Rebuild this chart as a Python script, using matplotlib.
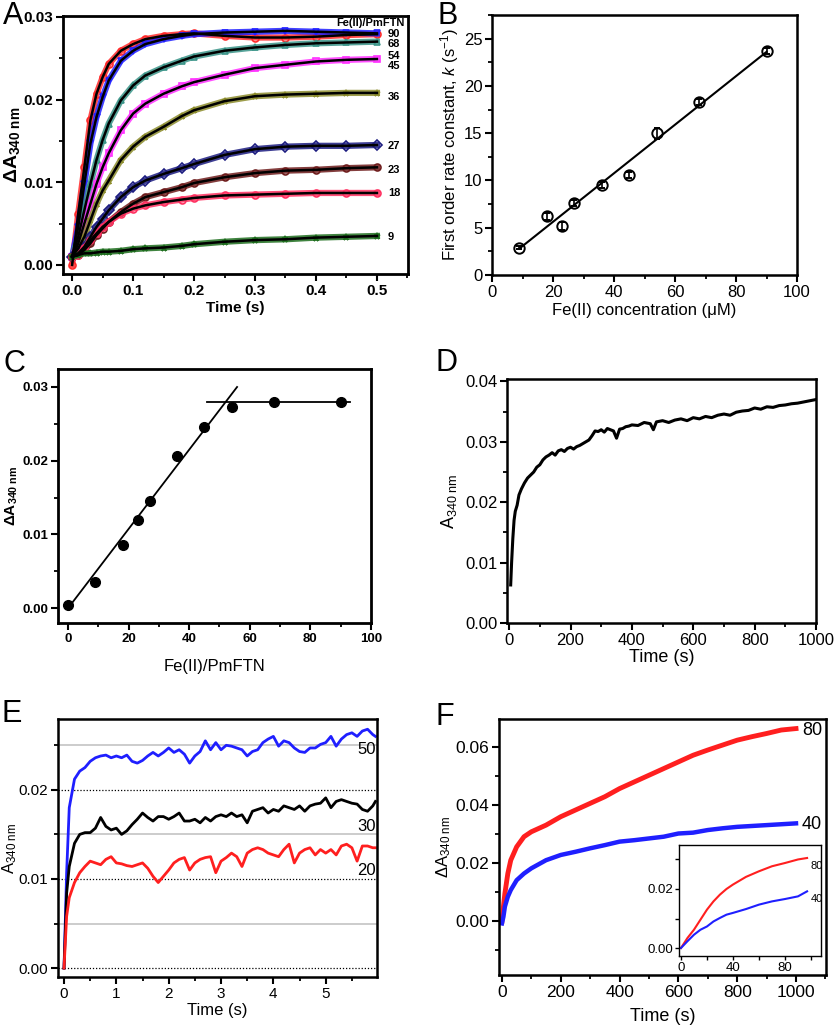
import matplotlib
matplotlib.use('Agg')
import matplotlib.pyplot as plt
from matplotlib.ticker import MultipleLocator, FormatStrFormatter

plt.rcParams['font.family'] = ['Liberation Sans', 'DejaVu Sans']
plt.rcParams['mathtext.fontset'] = 'custom'
plt.rcParams['mathtext.rm'] = 'Liberation Sans'
plt.rcParams['mathtext.it'] = 'Liberation Sans:italic'
plt.rcParams['mathtext.bf'] = 'Liberation Sans:bold'

# ---- panel A: stopped-flow traces at 340 nm
a_time = [0, 0.01, 0.02, 0.03, 0.04, 0.05, 0.06, 0.08, 0.10, 0.12, 0.15, 0.18, 0.20,
          0.25, 0.30, 0.35, 0.40, 0.45, 0.50]
a_90 = [0.0000, 0.0062, 0.0118, 0.0175, 0.0207, 0.0227, 0.0243, 0.0259, 0.0267, 0.0273,
        0.0277, 0.0279, 0.0280, 0.0277, 0.0275, 0.0275, 0.0276, 0.0278, 0.0279]
a_68 = [0.0010, 0.0046, 0.0098, 0.0147, 0.0179, 0.0203, 0.0223, 0.0247, 0.0259, 0.0267,
        0.0273, 0.0277, 0.0279, 0.0281, 0.0282, 0.0283, 0.0282, 0.0281, 0.0280]
a_54 = [0.0010, 0.0034, 0.0066, 0.0098, 0.0127, 0.0151, 0.0171, 0.0199, 0.0217, 0.0229,
        0.0239, 0.0247, 0.0252, 0.0259, 0.0263, 0.0266, 0.0268, 0.0269, 0.0270]
a_45 = [0.0010, 0.0026, 0.0050, 0.0074, 0.0098, 0.0118, 0.0135, 0.0163, 0.0183, 0.0195,
        0.0207, 0.0216, 0.0221, 0.0230, 0.0238, 0.0242, 0.0246, 0.0248, 0.0249]
a_36 = [0.0010, 0.0020, 0.0034, 0.0054, 0.0074, 0.0090, 0.0102, 0.0127, 0.0143, 0.0155,
        0.0167, 0.0180, 0.0187, 0.0198, 0.0204, 0.0206, 0.0207, 0.0208, 0.0208]
a_27 = [0.0010, 0.0014, 0.0022, 0.0034, 0.0046, 0.0056, 0.0066, 0.0082, 0.0094, 0.0102,
        0.0110, 0.0117, 0.0122, 0.0133, 0.0140, 0.0143, 0.0144, 0.0144, 0.0145]
a_23 = [0.0010, 0.0012, 0.0018, 0.0026, 0.0036, 0.0044, 0.0052, 0.0064, 0.0074, 0.0082,
        0.0088, 0.0094, 0.0099, 0.0106, 0.0111, 0.0114, 0.0115, 0.0117, 0.0118]
a_18 = [0.0010, 0.0012, 0.0020, 0.0030, 0.0038, 0.0046, 0.0052, 0.0062, 0.0068, 0.0072,
        0.0076, 0.0079, 0.0081, 0.0084, 0.0085, 0.0086, 0.0087, 0.0087, 0.0087]
a_9 = [0.0010, 0.0012, 0.0014, 0.0014, 0.0015, 0.0016, 0.0016, 0.0017, 0.0019, 0.0020,
       0.0021, 0.0023, 0.0025, 0.0028, 0.0030, 0.0031, 0.0033, 0.0034, 0.0035]
a_series = [a_90, a_68, a_54, a_45, a_36, a_27, a_23, a_18, a_9]
a_colors = ['#ff2a2a', '#2020ff', '#3a9488', '#ff30ff', '#8c8c2c', '#1c1c80', '#6e1c1c',
            '#ff3060', '#1e6e1e']
a_markers = ['o', 'v', '^', 's', '*', 'D', 'o', 'o', '*']
a_labels = ['90', '68', '54', '45', '36', '27', '23', '18', '9']
a_label_y = [0.0279, 0.0267, 0.0253, 0.0241, 0.0203, 0.0144, 0.0115, 0.0087, 0.0034]

# ---- panel B: rate constant vs Fe(II)
b_fe = [9, 18, 23, 27, 36, 45, 54, 68, 90]
b_k = [2.9, 6.2, 5.2, 7.6, 9.5, 10.6, 15.0, 18.3, 23.7]
b_err = [0.2, 0.4, 0.4, 0.3, 0.3, 0.3, 0.6, 0.3, 0.3]
b_fit_x = [9, 90]
b_fit_y = [2.8, 23.6]

# ---- panel C: titration
c_ratio = [0, 9, 18, 23, 27, 36, 45, 54, 68, 90]
c_dA = [0.0004, 0.0035, 0.0086, 0.0120, 0.0145, 0.0207, 0.0246, 0.0273, 0.0279, 0.0280]
c_line1_x = [1.3, 55.8]
c_line1_y = [0.0007, 0.0300]
c_line2_x = [45.8, 93]
c_line2_y = [0.0279, 0.0279]

# ---- panel D: slow phase
d_time = [5, 8, 12, 16, 20, 26, 32, 40, 50, 60, 70, 80, 90, 100, 110, 120, 130, 140, 150,
          160, 170, 180, 190, 200, 210, 220, 230, 240, 250, 260, 270, 280, 290, 300, 310,
          320, 330, 340, 350, 360, 370, 380, 390, 400, 420, 440, 460, 470, 480, 500, 520,
          540, 560, 580, 600, 620, 640, 660, 680, 700, 720, 740, 760, 780, 800, 820, 840,
          860, 880, 900, 920, 940, 960, 980, 1000]
d_abs = [0.0063, 0.0100, 0.0140, 0.0170, 0.0185, 0.0195, 0.0212, 0.0222, 0.0232, 0.0240,
         0.0245, 0.0250, 0.0258, 0.0262, 0.0270, 0.0275, 0.0278, 0.0282, 0.0278, 0.0285,
         0.0287, 0.0284, 0.0289, 0.0291, 0.0288, 0.0292, 0.0294, 0.0297, 0.0300, 0.0303,
         0.0310, 0.0318, 0.0317, 0.0320, 0.0316, 0.0322, 0.0320, 0.0318, 0.0306, 0.0321,
         0.0322, 0.0325, 0.0326, 0.0328, 0.0327, 0.0332, 0.0330, 0.0320, 0.0333, 0.0335,
         0.0332, 0.0336, 0.0338, 0.0335, 0.0340, 0.0338, 0.0342, 0.0340, 0.0344, 0.0346,
         0.0344, 0.0349, 0.0351, 0.0352, 0.0356, 0.0354, 0.0358, 0.0357, 0.0360, 0.0361,
         0.0363, 0.0364, 0.0366, 0.0368, 0.0370]

# ---- panel E: three Fe(II) levels
e_time = [0, 0.05, 0.1, 0.2, 0.3, 0.4, 0.5, 0.6, 0.7, 0.8, 0.9, 1.0, 1.1, 1.2, 1.3, 1.4,
          1.5, 1.6, 1.7, 1.8, 1.9, 2.0, 2.1, 2.2, 2.3, 2.4, 2.5, 2.6, 2.7, 2.8, 2.9, 3.0,
          3.1, 3.2, 3.3, 3.4, 3.5, 3.6, 3.7, 3.8, 3.9, 4.0, 4.1, 4.2, 4.3, 4.4, 4.5, 4.6,
          4.7, 4.8, 4.9, 5.0, 5.1, 5.2, 5.3, 5.4, 5.5, 5.6, 5.7, 5.8, 5.9, 5.95]
e_50 = [0.0, 0.0107, 0.0180, 0.0212, 0.0221, 0.0225, 0.0232, 0.0236, 0.0238, 0.0239,
        0.0236, 0.0238, 0.0236, 0.0239, 0.0232, 0.0230, 0.0233, 0.0238, 0.0242, 0.0238,
        0.0242, 0.0247, 0.0242, 0.0245, 0.0240, 0.0230, 0.0238, 0.0243, 0.0255, 0.0245,
        0.0253, 0.0245, 0.0250, 0.0249, 0.0247, 0.0245, 0.0238, 0.0243, 0.0245, 0.0253,
        0.0257, 0.0260, 0.0249, 0.0255, 0.0253, 0.0247, 0.0243, 0.0242, 0.0247, 0.0247,
        0.0251, 0.0253, 0.0260, 0.0249, 0.0257, 0.0262, 0.0264, 0.0260, 0.0266, 0.0268,
        0.0262, 0.0260]
e_30 = [0.0, 0.0084, 0.0114, 0.0140, 0.0150, 0.0152, 0.0152, 0.0157, 0.0169, 0.0159,
        0.0155, 0.0157, 0.0150, 0.0154, 0.0161, 0.0167, 0.0174, 0.0169, 0.0165, 0.0170,
        0.0170, 0.0167, 0.0170, 0.0174, 0.0165, 0.0165, 0.0167, 0.0163, 0.0169, 0.0165,
        0.0170, 0.0172, 0.0170, 0.0174, 0.0170, 0.0172, 0.0163, 0.0176, 0.0178, 0.0180,
        0.0174, 0.0178, 0.0176, 0.0182, 0.0180, 0.0178, 0.0182, 0.0176, 0.0182, 0.0184,
        0.0185, 0.0191, 0.0180, 0.0187, 0.0189, 0.0187, 0.0185, 0.0184, 0.0178, 0.0176,
        0.0182, 0.0187]
e_20 = [0.0, 0.0058, 0.0079, 0.0096, 0.0107, 0.0114, 0.0120, 0.0118, 0.0116, 0.0122,
        0.0125, 0.0118, 0.0117, 0.0115, 0.0114, 0.0116, 0.0118, 0.0112, 0.0103, 0.0096,
        0.0103, 0.0110, 0.0118, 0.0122, 0.0124, 0.0110, 0.0118, 0.0122, 0.0124, 0.0125,
        0.0107, 0.0120, 0.0124, 0.0129, 0.0125, 0.0114, 0.0129, 0.0133, 0.0135, 0.0133,
        0.0129, 0.0127, 0.0125, 0.0133, 0.0139, 0.0118, 0.0129, 0.0133, 0.0135, 0.0127,
        0.0133, 0.0129, 0.0133, 0.0127, 0.0137, 0.0139, 0.0135, 0.0120, 0.0137, 0.0137,
        0.0135, 0.0135]
e_labels = ['50', '30', '20']
e_label_y = [0.0245, 0.0159, 0.0110]
e_dotted = [0.0, 0.01, 0.02]
e_gray = [0.005, 0.015, 0.025]

# ---- panel F: long traces + inset
f_time = [0, 5, 10, 20, 30, 50, 75, 100, 150, 200, 250, 300, 350, 400, 450, 500, 550,
          600, 650, 700, 750, 800, 850, 900, 950, 1000]
f_80 = [0.0, 0.0050, 0.0095, 0.0164, 0.0210, 0.0256, 0.0291, 0.0308, 0.0331, 0.0360,
        0.0383, 0.0406, 0.0429, 0.0457, 0.0480, 0.0503, 0.0526, 0.0549, 0.0572, 0.0590,
        0.0607, 0.0624, 0.0636, 0.0647, 0.0659, 0.0664]
f_40 = [-0.0008, 0.0015, 0.0050, 0.0084, 0.0107, 0.0141, 0.0164, 0.0182, 0.0210, 0.0228,
        0.0239, 0.0251, 0.0262, 0.0274, 0.0279, 0.0285, 0.0291, 0.0302, 0.0305, 0.0314,
        0.0320, 0.0325, 0.0328, 0.0331, 0.0334, 0.0337]
fi_time = [0, 5, 10, 15, 20, 25, 30, 35, 40, 50, 60, 70, 80, 90, 97]
fi_80 = [0.0, 0.0034, 0.0062, 0.0096, 0.0130, 0.0158, 0.0181, 0.0200, 0.0215, 0.0241,
         0.0260, 0.0277, 0.0288, 0.0300, 0.0305]
fi_40 = [0.0, 0.0023, 0.0045, 0.0062, 0.0073, 0.0090, 0.0102, 0.0113, 0.0119, 0.0132,
         0.0147, 0.0158, 0.0166, 0.0175, 0.0192]

W, H = 840, 1030
fig = plt.figure(figsize=(W / 100, H / 100), dpi=100)


def box(l, t, r, b):
    return [l / W, 1 - b / H, (r - l) / W, (b - t) / H]


def style(ax, fs, bold=False, lw=1.8):
    for s in ax.spines.values():
        s.set_linewidth(lw)
    ax.tick_params(which='major', direction='out', length=5, width=1.5, labelsize=fs,
                   top=False, right=False, pad=2)
    ax.tick_params(which='minor', direction='out', length=3, width=1.3, top=False, right=False)
    if bold:
        for lab in ax.get_xticklabels() + ax.get_yticklabels():
            lab.set_fontweight('bold')


# A
ax = fig.add_axes(box(63, 16, 408, 274))
for ys, c, m in zip(a_series, a_colors, a_markers):
    ax.plot(a_time, ys, color=c, lw=4.5, alpha=0.85)
    ax.plot(a_time, ys, ls='none', marker=m, ms=5, mfc='none', mec=c, mew=1.2)
for ys in a_series:
    ax.plot(a_time, ys, color='black', lw=1.8)
ax.text(0.546, 0.0293, 'Fe(II)/PmFTN', fontsize=8, fontweight='bold', ha='right', va='center')
for lab, ly in zip(a_labels, a_label_y):
    ax.text(0.518, ly, lab, fontsize=8, fontweight='bold', va='center')
ax.set_xlim(-0.015, 0.551)
ax.set_ylim(-0.0011, 0.0301)
ax.xaxis.set_major_locator(MultipleLocator(0.1))
ax.xaxis.set_minor_locator(MultipleLocator(0.05))
ax.yaxis.set_major_locator(MultipleLocator(0.01))
ax.yaxis.set_minor_locator(MultipleLocator(0.005))
ax.xaxis.set_major_formatter(FormatStrFormatter('%.1f'))
ax.yaxis.set_major_formatter(FormatStrFormatter('%.2f'))
style(ax, 11, bold=True, lw=2)
ax.set_xlabel('Time (s)', fontsize=11, fontweight='bold', labelpad=2)
ax.set_ylabel(r'$\mathbf{\Delta A}_{\mathbf{340\ nm}}$', fontsize=14, labelpad=1)

# B
ax = fig.add_axes(box(492, 15, 797, 275))
ax.errorbar(b_fe, b_k, yerr=b_err, fmt='o', ms=7.5, mfc='none', mec='black', mew=1.4,
            ecolor='black', elinewidth=1.2, capsize=2.5)
ax.plot(b_fit_x, b_fit_y, color='black', lw=1.5)
ax.set_xlim(0, 100)
ax.set_ylim(0, 27.5)
ax.xaxis.set_major_locator(MultipleLocator(20))
ax.xaxis.set_minor_locator(MultipleLocator(10))
ax.yaxis.set_major_locator(MultipleLocator(5))
ax.yaxis.set_minor_locator(MultipleLocator(2.5))
style(ax, 12)
ax.set_xlabel('Fe(II) concentration (\u03bcM)', fontsize=12, labelpad=2)
ax.set_ylabel(r'First order rate constant, $\mathit{k}$ (s$^{\mathrm{-1}}$)', fontsize=12,
              labelpad=2)

# C
ax = fig.add_axes(box(58, 369, 371, 623))
ax.plot(c_line1_x, c_line1_y, color='black', lw=1.3)
ax.plot(c_line2_x, c_line2_y, color='black', lw=1.3)
ax.plot(c_ratio, c_dA, 'o', color='black', ms=7)
ax.set_xlim(-3.3, 100)
ax.set_ylim(-0.002, 0.03244)
ax.xaxis.set_major_locator(MultipleLocator(20))
ax.xaxis.set_minor_locator(MultipleLocator(10))
ax.yaxis.set_major_locator(MultipleLocator(0.01))
ax.yaxis.set_minor_locator(MultipleLocator(0.005))
ax.yaxis.set_major_formatter(FormatStrFormatter('%.2f'))
style(ax, 9.5, bold=True, lw=2)
ax.set_xlabel('Fe(II)/PmFTN', fontsize=12, labelpad=10)
ax.set_ylabel(r'$\mathbf{\Delta A}_{\mathbf{340\ nm}}$', fontsize=11, labelpad=2)

# D
ax = fig.add_axes(box(507, 379, 816, 623))
ax.plot(d_time, d_abs, color='black', lw=2.2)
ax.set_xlim(-7, 1000)
ax.set_ylim(0, 0.0404)
ax.xaxis.set_major_locator(MultipleLocator(200))
ax.xaxis.set_minor_locator(MultipleLocator(100))
ax.yaxis.set_major_locator(MultipleLocator(0.01))
ax.yaxis.set_minor_locator(MultipleLocator(0.005))
ax.yaxis.set_major_formatter(FormatStrFormatter('%.2f'))
style(ax, 12)
ax.set_xlabel('Time (s)', fontsize=13, labelpad=1)
ax.set_ylabel(r'A$_{\mathrm{340\ nm}}$', fontsize=13, labelpad=4)

# E
ax = fig.add_axes(box(58, 719, 377, 977))
for gy in e_dotted:
    ax.axhline(gy, color='black', lw=0.9, ls=(0, (1, 1.5)), zorder=0)
for gy in e_gray:
    ax.axhline(gy, color='#c8c8c8', lw=1.3, zorder=0)
ax.plot(e_time, e_50, color='#1f1fff', lw=2)
ax.plot(e_time, e_30, color='black', lw=2)
ax.plot(e_time, e_20, color='#ff1f1f', lw=2)
for lab, ly in zip(e_labels, e_label_y):
    ax.text(5.6, ly, lab, fontsize=12, va='center')
ax.set_xlim(-0.115, 5.98)
ax.set_ylim(-0.001, 0.02795)
ax.xaxis.set_major_locator(MultipleLocator(1))
ax.xaxis.set_minor_locator(MultipleLocator(0.5))
ax.yaxis.set_major_locator(MultipleLocator(0.01))
ax.yaxis.set_minor_locator(MultipleLocator(0.005))
ax.yaxis.set_major_formatter(FormatStrFormatter('%.2f'))
style(ax, 11)
ax.set_xlabel('Time (s)', fontsize=12, labelpad=2)
ax.set_ylabel(r'A$_{\mathrm{340\ nm}}$', fontsize=12, labelpad=0)

# F
ax = fig.add_axes(box(499, 719, 826, 975))
ax.plot(f_time, f_80, color='#ff1f1f', lw=3.5)
ax.plot(f_time, f_40, color='#1f1fff', lw=3.2)
ax.text(1020, 0.0656, '80', fontsize=13, va='center')
ax.text(1020, 0.0333, '40', fontsize=13, va='center')
ax.set_xlim(-10, 1102)
ax.set_ylim(-0.0186, 0.0697)
ax.xaxis.set_major_locator(MultipleLocator(200))
ax.xaxis.set_minor_locator(MultipleLocator(100))
ax.yaxis.set_major_locator(MultipleLocator(0.02))
ax.yaxis.set_minor_locator(MultipleLocator(0.01))
ax.yaxis.set_major_formatter(FormatStrFormatter('%.2f'))
style(ax, 12.5)
ax.set_xlabel('Time (s)', fontsize=13, labelpad=6)
ax.set_ylabel(r'$\Delta$A$_{\mathrm{340\ nm}}$', fontsize=12, labelpad=2)

ins = fig.add_axes(box(679, 845, 821, 956))
ins.plot(fi_time, fi_80, color='#ff1f1f', lw=1.5)
ins.plot(fi_time, fi_40, color='#1f1fff', lw=1.5)
ins.text(100, 0.0277, '80', fontsize=8, va='center')
ins.text(100, 0.0166, '40', fontsize=8, va='center')
ins.set_xlim(-1.5, 107.7)
ins.set_ylim(-0.0027, 0.0349)
ins.xaxis.set_major_locator(MultipleLocator(40))
ins.xaxis.set_minor_locator(MultipleLocator(20))
ins.yaxis.set_major_locator(MultipleLocator(0.02))
ins.yaxis.set_minor_locator(MultipleLocator(0.01))
ins.yaxis.set_major_formatter(FormatStrFormatter('%.2f'))
style(ins, 9.5, lw=1)
ins.tick_params(which='both', length=3, width=1)
ins.tick_params(axis='both', pad=1)

# panel letters
for letter, (px, py) in zip('ABCDEF', [(13, 16), (448, 16), (14, 364), (446, 363),
                                      (12, 714), (445, 717)]):
    fig.text(px / W, 1 - py / H, letter, fontsize=22, ha='center', va='center')

fig.savefig('out.png', dpi=100)
